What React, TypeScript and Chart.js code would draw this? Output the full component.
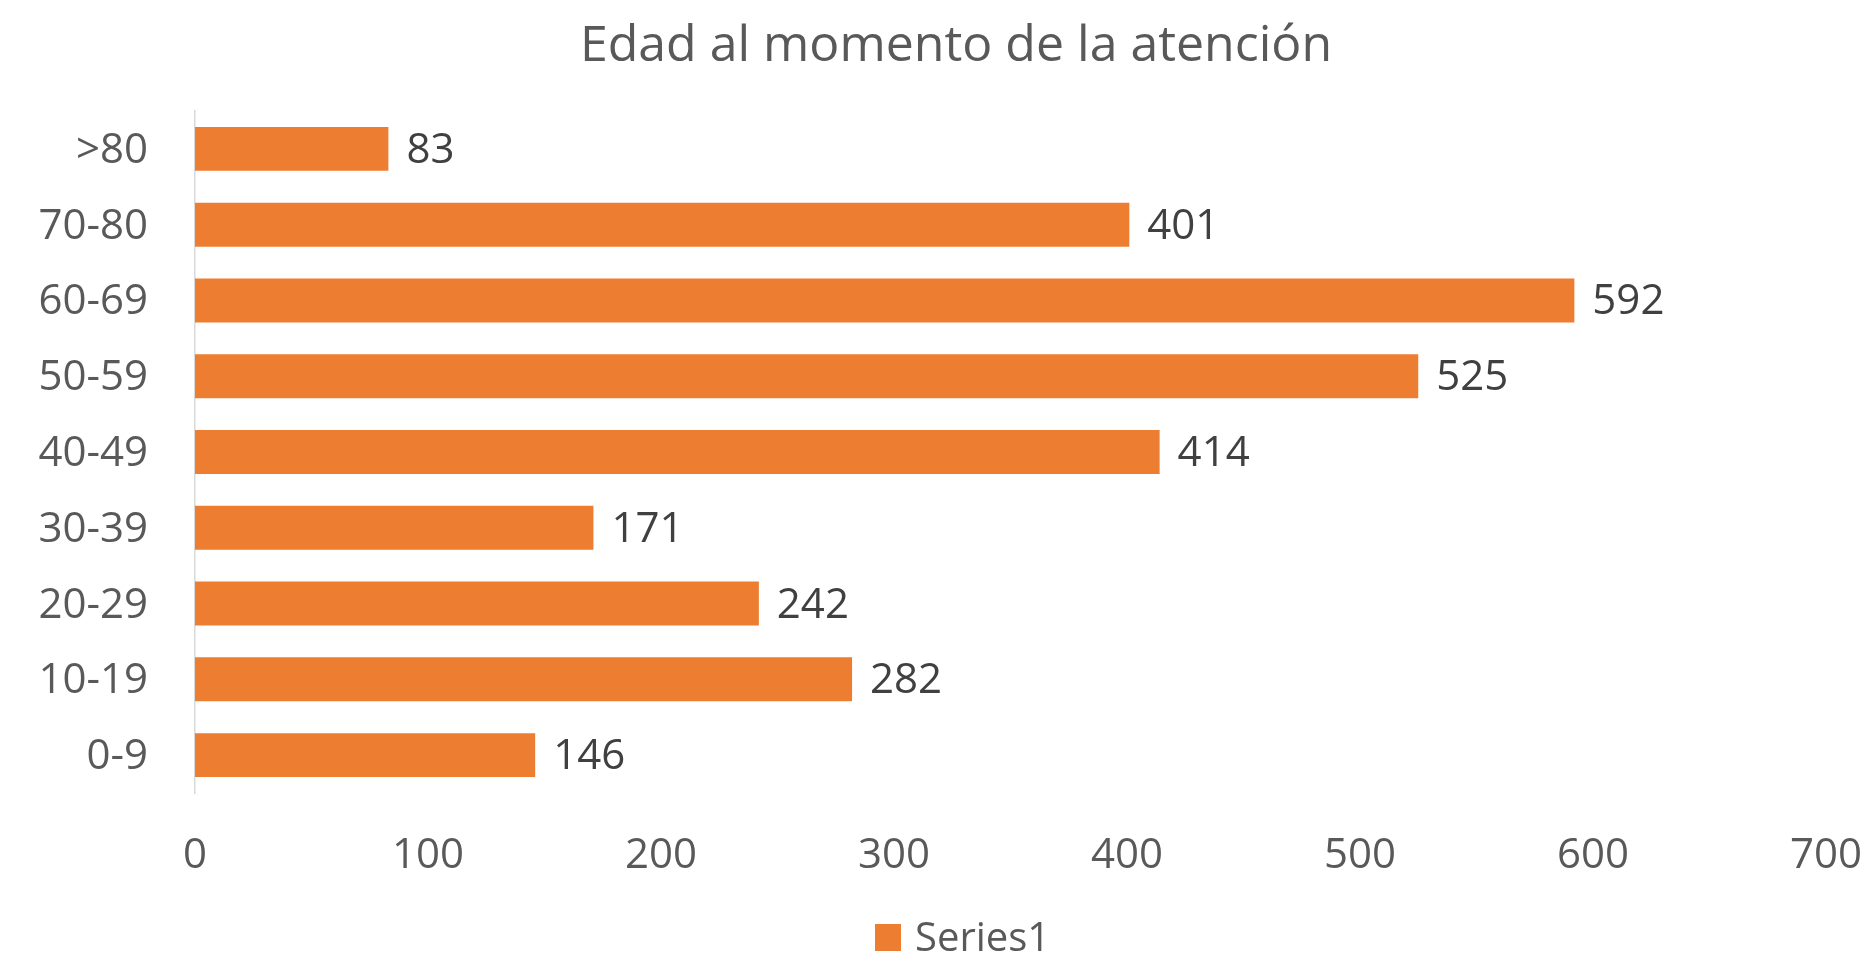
import React, { useEffect, useRef } from "react";
import { Chart, registerables } from "chart.js";

Chart.register(...registerables);

const categories = ["0-9", "10-19", "20-29", "30-39", "40-49", "50-59", "60-69", "70-80", ">80"];
const seriesValues = [146, 282, 242, 171, 414, 525, 592, 401, 83];
const xTicks = [0, 100, 200, 300, 400, 500, 600, 700];
const seriesName = "Series1";
const titleText = "Edad al momento de la atención";

const FONT = "'Open Sans', 'Noto Sans', sans-serif";
const BAR_COLOR = "#ED7D31";

const dataLabelPlugin = {
  id: "dataLabels",
  afterDatasetsDraw(chart: any) {
    const ctx = chart.ctx;
    const meta = chart.getDatasetMeta(0);
    ctx.save();
    ctx.font = `42px ${FONT}`;
    ctx.fillStyle = "#404040";
    ctx.textAlign = "left";
    ctx.textBaseline = "middle";
    meta.data.forEach((bar: any, i: number) => {
      const v = chart.data.datasets[0].data[i];
      ctx.fillText(String(v), bar.x + 18, bar.y + 2);
    });
    ctx.restore();
  },
};

// Title and legend, placed as in the reference (Excel-style layout)
const titleLegendPlugin = {
  id: "titleLegend",
  afterDraw(chart: any) {
    const ctx = chart.ctx;
    ctx.save();
    // title
    ctx.font = `50px ${FONT}`;
    ctx.fillStyle = "#595959";
    ctx.textAlign = "center";
    ctx.textBaseline = "alphabetic";
    ctx.fillText(titleText, 956, 61);
    // legend
    const ds = chart.data.datasets[0];
    ctx.fillStyle = ds.backgroundColor;
    ctx.fillRect(875, 924, 26, 27);
    ctx.font = `40px ${FONT}`;
    ctx.fillStyle = "#595959";
    ctx.textAlign = "left";
    ctx.fillText(ds.label, 915, 951);
    ctx.restore();
  },
};

export default function App() {
  const ref = useRef<HTMLCanvasElement | null>(null);
  useEffect(() => {
    if (!ref.current) return;
    const chart = new Chart(ref.current, {
      type: "bar",
      data: {
        labels: categories,
        datasets: [
          {
            label: seriesName,
            data: seriesValues,
            backgroundColor: BAR_COLOR,
            borderWidth: 0,
            barPercentage: 0.58,
            categoryPercentage: 1,
          },
        ],
      },
      options: {
        indexAxis: "y",
        responsive: false,
        animation: false,
        layout: { padding: { left: 0, right: 45, top: 111, bottom: 72 } },
        plugins: {
          title: { display: false },
          legend: { display: false },
          tooltip: { enabled: false },
        },
        scales: {
          x: {
            type: "linear",
            min: 0,
            max: 700,
            afterBuildTicks(scale: any) {
              scale.ticks = xTicks.map((v) => ({ value: v }));
            },
            afterFit(scale: any) {
              scale.height = 90;
            },
            grid: { display: false, drawTicks: true, tickLength: 36 },
            border: { display: false },
            ticks: {
              color: "#595959",
              font: { family: FONT, size: 42 },
              padding: 2,
            },
          },
          y: {
            type: "category",
            reverse: true,
            afterFit(scale: any) {
              scale.width = 195;
            },
            grid: { display: false, drawTicks: true, tickLength: 45 },
            border: { display: true, color: "#D9D9D9", width: 1.5 },
            ticks: {
              color: "#595959",
              font: { family: FONT, size: 42 },
              padding: 2,
              labelOffset: 2,
            },
          },
        },
      },
      plugins: [dataLabelPlugin, titleLegendPlugin],
    } as any);
    return () => chart.destroy();
  }, []);
  return (
    <div style={{ position: "fixed", left: 0, top: 0, width: 1871, height: 955, background: "#fff" }}>
      <canvas ref={ref} width={1871} height={955} />
    </div>
  );
}
